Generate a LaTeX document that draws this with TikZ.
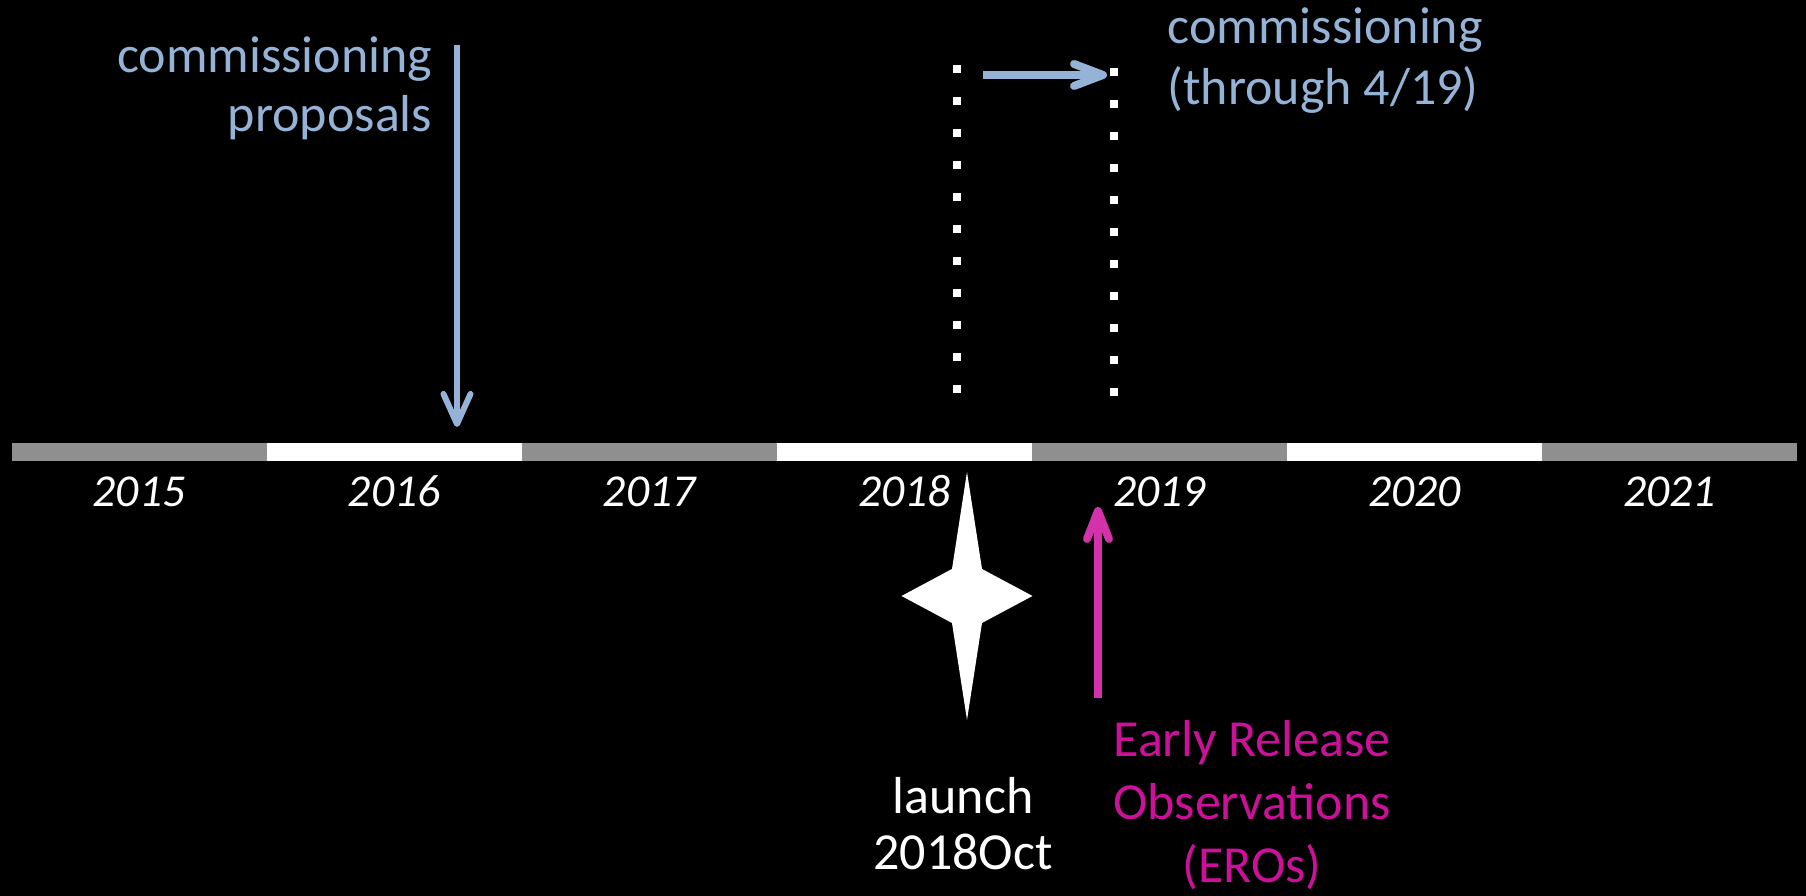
\documentclass[tikz,border=0pt]{standalone}
\usepackage{fontspec}
\setmainfont{Carlito}
\usepackage{xcolor}
\usetikzlibrary{arrows.meta,positioning}
\definecolor{plannerblue}{RGB}{149,179,215}
\definecolor{eromagenta}{RGB}{204,16,153}
\definecolor{eroarrow}{RGB}{212,50,170}
\definecolor{bargrey}{RGB}{143,143,143}

\begin{document}
\begin{tikzpicture}[
    yearbar/.style={minimum width=2.551cm, minimum height=0.18cm, inner sep=0, outer sep=0},
    yearlabel/.style={white, font=\itshape\fontsize{13}{15}\selectfont, anchor=base, inner sep=0},
    note/.style={font=\fontsize{14.8}{17}\selectfont, inner sep=0},
    dotline/.style={white, line width=0.08cm, dash pattern=on 0.08cm off 0.24cm},
    bluearrow/.style={draw=plannerblue, -{Straight Barb[length=0.3cm, width=0.27cm, round]}}
  ]
  \fill[black] (0,0) rectangle (18.06,8.96);
  \useasboundingbox (0,0) rectangle (18.06,8.96);

  % the years
  \foreach \yr/\col [count=\i from 0] in {2015/bargrey,2016/white,2017/bargrey,2018/white,2019/bargrey,2020/white,2021/bargrey}{
    \node[yearbar, fill=\col] (bar\yr) at ({0.115+2.551*(\i+0.5)},4.44) {};
    \node[yearlabel] (lbl\yr) at ({0.115+2.551*(\i+0.5)},3.89) {\yr};
  }

  % commissioning proposals
  \node[note, plannerblue, align=right, anchor=base east] (propText) at (4.33,7.64) {commissioning\\proposals};
  \coordinate (propTop) at (4.57,8.51);
  \coordinate (propTip) at (4.57,4.69);
  \draw[bluearrow, line width=0.06cm] (propTop) -- (propTip);

  % commissioning window
  \coordinate (winLtop) at (9.57,8.307);
  \coordinate (winLbot) at (9.57,5.027);
  \coordinate (winRtop) at (11.14,8.28);
  \coordinate (winRbot) at (11.14,5.00);
  \draw[dotline] (winLtop) -- (winLbot);
  \draw[dotline] (winRtop) -- (winRbot);
  \coordinate (shiftStart) at (9.83,8.21);
  \coordinate (shiftTip) at (11.07,8.21);
  \draw[bluearrow, line width=0.08cm, -{Straight Barb[length=0.29cm, width=0.22cm, round]}] (shiftStart) -- (shiftTip);
  \node[note, plannerblue, align=left, anchor=base west, font=\fontsize{14.8}{17.6}\selectfont] (commText) at (11.67,7.91) {commissioning\\(through 4/19)};

  % launch
  \fill[white] (9.67,3.00) +(0,1.24) -- +(0.15,0.27) -- +(0.655,0) -- +(0.15,-0.27)
    -- +(0,-1.24) -- +(-0.15,-0.27) -- +(-0.655,0) -- +(-0.15,0.27) -- cycle;
  \node[note, white, align=center, anchor=base, font=\fontsize{14.8}{16.2}\selectfont] (launchText) at (9.63,0.26) {launch\\2018Oct};

  % early release observations
  \coordinate (eroFoot) at (10.98,1.98);
  \coordinate (eroTip) at (10.98,3.89);
  \draw[eroarrow, line width=0.08cm, -{Straight Barb[length=0.28cm, width=0.22cm, round]}] (eroFoot) -- (eroTip);
  \node[note, eromagenta, align=center, anchor=base, font=\fontsize{14.8}{18}\selectfont] (eroText) at (12.52,0.13) {Early Release\\Observations\\(EROs)};
\end{tikzpicture}
\end{document}
